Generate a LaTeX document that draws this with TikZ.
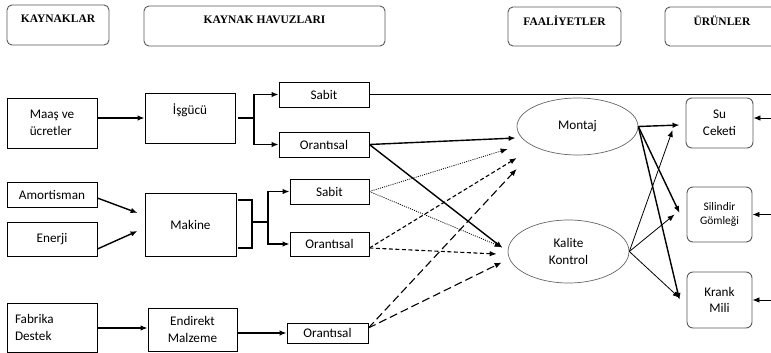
\documentclass[tikz,border=0pt]{standalone}
\usepackage{fontspec}
\setmainfont{Carlito}
\newfontfamily\headfont{Liberation Serif}
\usetikzlibrary{shapes.geometric,arrows.meta}

\begin{document}
\begin{tikzpicture}[x=1pt,y=-1pt,
  font=\fontsize{13.2}{16.5}\selectfont,
  box/.style={draw, line width=0.8pt, inner sep=0pt},
  head/.style={draw=black!65, line width=0.9pt, rounded corners=5pt},
  headtxt/.style={font=\headfont\bfseries\fontsize{11.5}{13}\selectfont},
  prod/.style={draw=black!65, line width=0.9pt, rounded corners=6pt, align=center, inner sep=0pt},
  act/.style={ellipse, draw=black!60, line width=0.7pt, align=center, inner sep=0pt},
  link/.style={line width=1.4pt},
  flow/.style={-{Latex[length=7pt,width=5.5pt]}, line width=1.4pt},
  lflow/.style={-{Latex[length=7pt,width=5.5pt]}, line width=0.8pt},
  dotflow/.style={lflow, dash pattern=on 1pt off 1.2pt},
  dashflow/.style={lflow, line width=1.1pt, dash pattern=on 4pt off 2.5pt},
  longflow/.style={lflow, line width=1.1pt, dash pattern=on 8pt off 4pt}]

\path[use as bounding box, fill=white] (0,0) rectangle (771,353);
\clip (0,0) rectangle (771,353);

% headers
\node[head, minimum width=102pt, minimum height=40pt, label={[headtxt, yshift=6pt]center:KAYNAKLAR}] (kaynak) at (58,25) {};
\node[head, minimum width=241pt, minimum height=40pt, label={[headtxt, yshift=6pt]center:KAYNAK HAVUZLARI}] (havuz) at (264.5,26) {};
\node[head, minimum width=113pt, minimum height=39pt, label={[headtxt, yshift=5.5pt]center:FAALİYETLER}] (faal) at (564.5,26.5) {};
\node[head, minimum width=114pt, minimum height=39pt, label={[headtxt, yshift=5.5pt]center:ÜRÜNLER}] (urun) at (722,26.5) {};

% kaynaklar
\node[box, minimum width=90pt, minimum height=50pt, align=left] (maas) at (52,123) {Maaş ve\\ücretler};
\node[box, minimum width=90pt, minimum height=25pt] (amort) at (52,194.5) {Amortisman};
\node[box, minimum width=90pt, minimum height=34pt] (enerji) at (52,239) {Enerji};
\node[box, text width=74pt, inner xsep=8pt, minimum height=49pt, align=left] (fabrika) at (52,327.5) {Fabrika\\Destek};

% kaynak havuzlari
\node[box, minimum width=90pt, minimum height=50pt, label={[yshift=8pt]center:İşgücü}] (isgucu) at (190,118) {};
\node[box, minimum width=91pt, minimum height=63pt] (makine) at (190.5,224.5) {Makine};
\node[box, minimum width=89pt, minimum height=43pt, align=center] (endirekt) at (192.5,329.5) {Endirekt\\Malzeme};

\node[box, minimum width=90pt, minimum height=25pt] (sabitA) at (324,94.5) {Sabit};
\node[box, minimum width=90pt, minimum height=25pt] (oranA) at (324,144.5) {Orantısal};
\node[box, minimum width=79pt, minimum height=25pt] (sabitB) at (329.5,191.5) {Sabit};
\node[box, minimum width=79pt, minimum height=24pt] (oranB) at (329.5,244) {Orantısal};
\node[box, minimum width=81pt, minimum height=20pt] (oranC) at (327.5,333) {Orantısal};

% faaliyetler
\node[act, minimum width=121pt, minimum height=57pt] (montaj) at (577.5,126.5) {Montaj};
\node[act, minimum width=121pt, minimum height=63pt] (kalite) at (568.5,251.5) {Kalite\\Kontrol};

% urunler
\node[prod, minimum width=67pt, minimum height=50pt] (su) at (719.5,123) {Su\\Ceketi};
\node[prod, minimum width=65pt, minimum height=55pt, font=\fontsize{11.5}{14}\selectfont] (silindir) at (719.5,214.5) {Silindir\\Gömleği};
\node[prod, minimum width=65pt, minimum height=56pt] (krank) at (719.5,300) {Krank\\Mili};

% kaynak -> havuz
\draw[flow] (maas.east |- isgucu.west) -- (isgucu.west);
\draw[flow] ([yshift=-3.5pt]amort.east) -- ([xshift=-7pt,yshift=11.5pt]makine.west);
\draw[flow] ([yshift=-10pt]enerji.east) -- ([xshift=-7pt,yshift=-6.5pt]makine.west);
\coordinate (fbOut) at ([yshift=-0.5pt]fabrika.east);
\draw[flow] (fbOut) -- (fbOut -| endirekt.west);
\draw[flow] (endirekt.east |- oranC.west) -- (oranC.west);

% ayrimlar
\coordinate (isfork) at (254,118);
\draw[link] ([xshift=3pt]isgucu.east) -- (isfork);
\draw[flow] (isfork) |- (sabitA.west);
\draw[flow] (isfork) |- (oranA.west);

\coordinate (mkfork) at (252,222);
\coordinate (mkfork2) at (268,222);
\draw[link] ([xshift=2pt,yshift=24.5pt]makine.east) -| (mkfork) |- ([xshift=2pt,yshift=-23.5pt]makine.east);
\draw[link] (mkfork) -- (mkfork2);
\draw[flow] (mkfork2) |- (sabitB.west);
\draw[flow] (mkfork2) |- (oranB.west);

% sabit giderler -> urunler
\coordinate (edge) at (775,93.5);
\coordinate (suIn) at ([yshift=5pt]su.east);
\draw[line width=0.9pt] (sabitA.east) -- (sabitA.east -| edge) -- (edge |- krank.east);
\draw[lflow] (edge |- suIn) -- (suIn);
\draw[lflow] (edge |- silindir.east) -- (silindir.east);
\draw[lflow] (edge |- krank.east) -- (krank.east);

% havuz -> faaliyet
\draw[flow] (oranA.east) -- ([xshift=-1pt,yshift=-11.5pt]montaj.west);
\draw[flow] (oranA.east) -- ([xshift=-5pt,yshift=3.5pt]kalite.west);
\draw[dotflow] (sabitB.east) -- ([xshift=-9pt,yshift=-22.5pt]montaj.west);
\draw[dotflow] (sabitB.east) -- ([xshift=-6pt,yshift=4.5pt]kalite.west);
\draw[dashflow] ([yshift=-4pt]oranB.east) -- ([yshift=-31.5pt]montaj.west);
\draw[dashflow] ([yshift=-4pt]oranB.east) -- ([xshift=-11pt,yshift=-2.5pt]kalite.west);
\draw[longflow] ([yshift=5pt]oranC.east) -- ([yshift=-42.5pt]montaj.west);
\draw[longflow] ([yshift=5pt]oranC.east) -- ([xshift=-6pt,yshift=-11pt]kalite.west);

% faaliyet -> urun
\draw[flow] (montaj.east) -- ([xshift=-6pt,yshift=-2pt]su.west);
\draw[flow] (montaj.east) -- ([xshift=-7pt,yshift=1.5pt]silindir.west);
\draw[flow] (montaj.east) -- ([xshift=-7pt]krank.west);
\draw[lflow] (kalite.east) -- ([xshift=-13pt,yshift=-7pt]su.west);
\draw[lflow] (kalite.east) -- ([xshift=-12pt]silindir.west);
\draw[lflow] (kalite.east) -- ([xshift=-7pt,yshift=2pt]krank.west);

\end{tikzpicture}
\end{document}
